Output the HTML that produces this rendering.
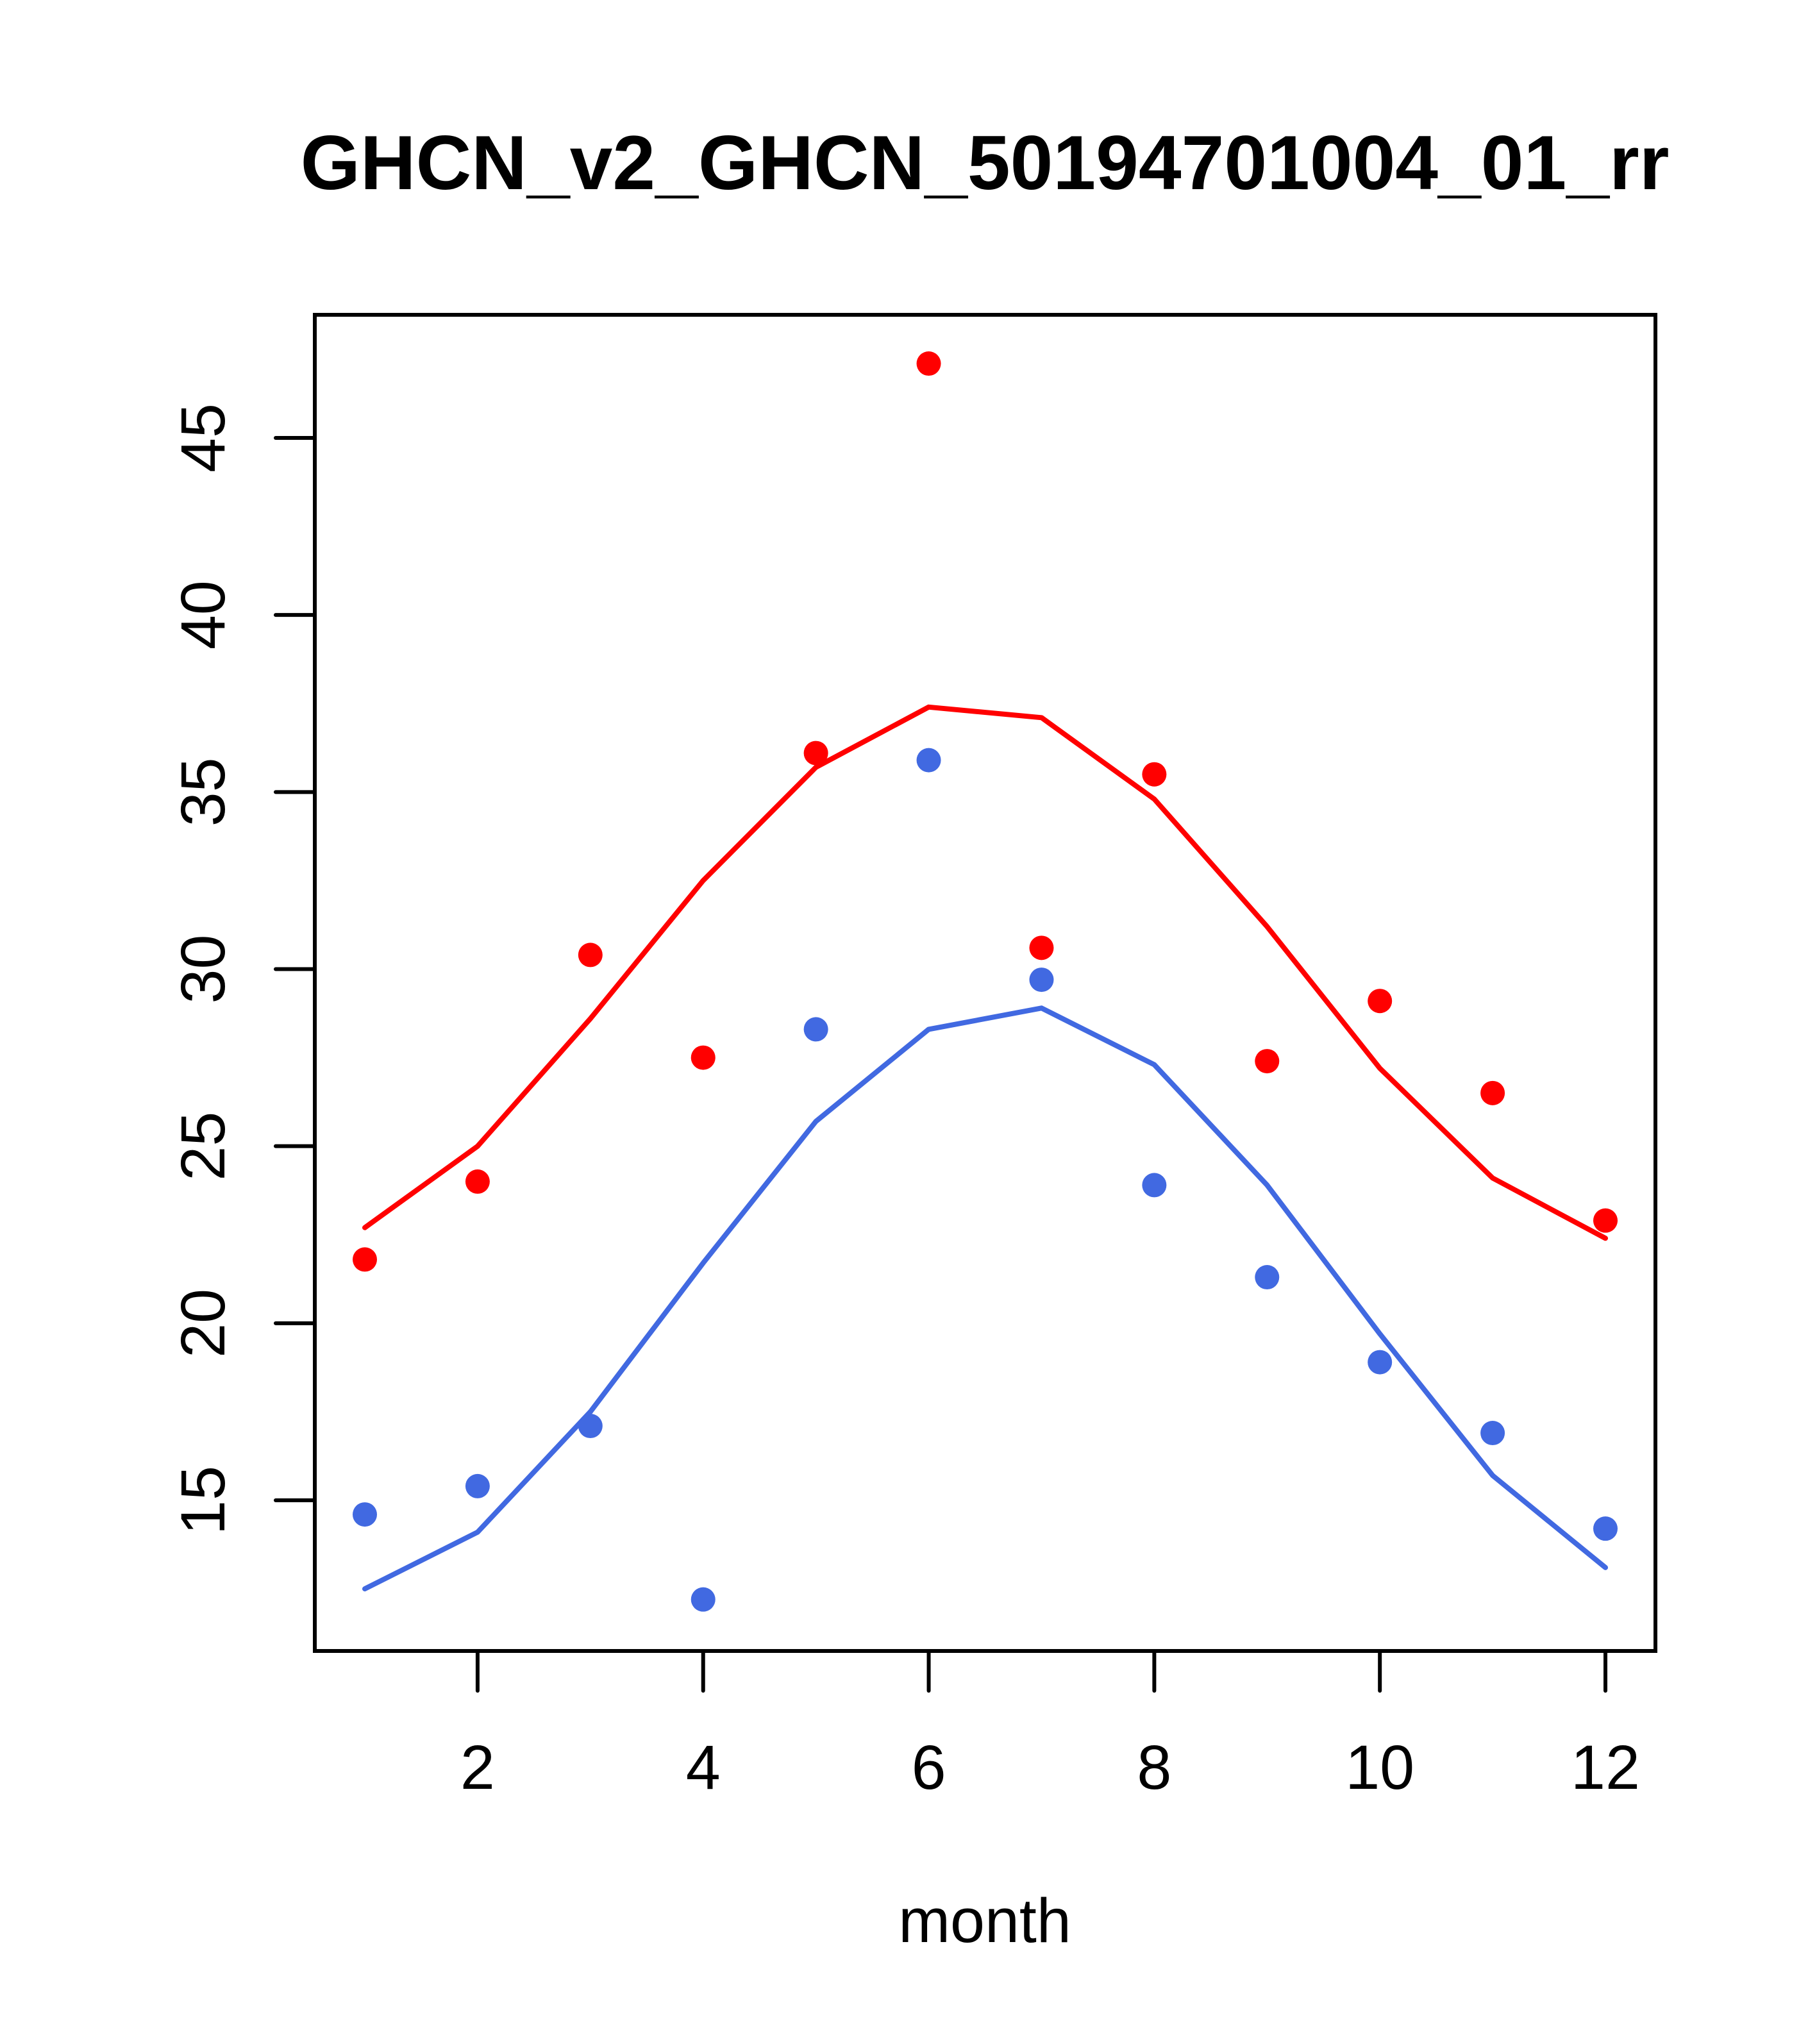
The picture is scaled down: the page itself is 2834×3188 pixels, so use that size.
<!DOCTYPE html>
<html><head><meta charset="utf-8"><style>html,body{margin:0;padding:0;background:#fff}svg{display:block}</style></head>
<body>
<svg id="chart" width="2834" height="3188" viewBox="0 0 2834 3188" xmlns="http://www.w3.org/2000/svg" font-family="Liberation Sans, Arial, sans-serif">
<rect width="2834" height="3188" fill="#fff"/>
<text x="1536" y="295" font-size="120" font-weight="bold" text-anchor="middle">GHCN_v2_GHCN_50194701004_01_rr</text>
<g id="marks"></g>
<rect x="491" y="491" width="2091" height="2084" fill="none" stroke="#000" stroke-width="6"/>
<g id="axes"></g>
<text x="1536" y="3029" font-size="97" text-anchor="middle">month</text>
</svg>
<script>
const months = [1,2,3,4,5,6,7,8,9,10,11,12];
const redPoints = [21.8,24.0,30.4,27.5,36.1,47.1,30.6,35.5,27.4,29.1,26.5,22.9];
const redLine = [22.7,25.0,28.6,32.5,35.7,37.4,37.1,34.8,31.2,27.2,24.1,22.4];
const bluePoints = [14.6,15.4,17.1,12.2,28.3,35.9,29.7,23.9,21.3,18.9,16.9,14.2];
const blueLine = [12.5,14.1,17.5,21.7,25.7,28.3,28.9,27.3,23.9,19.7,15.7,13.1];
const xTicks = [2,4,6,8,10,12];
const yTicks = [15,20,25,30,35,40,45];

const NS = "http://www.w3.org/2000/svg";
function xs(v){ return 569 + (v-1)*(2504-569)/11; }
function ys(v){ return 683 + (45-v)*(2340-683)/30; }
const marks = document.getElementById('marks');
const axes = document.getElementById('axes');
function mk(tag, attrs, parent){ const e=document.createElementNS(NS,tag); for(const k in attrs) e.setAttribute(k,attrs[k]); parent.appendChild(e); return e; }

function drawLine(vals, color, name){
  const pts = vals.map((v,i)=>xs(months[i]).toFixed(1)+','+ys(v).toFixed(1)).join(' ');
  const p = mk('polyline',{points:pts,fill:'none',stroke:color,'stroke-width':8,'stroke-linecap':'round','stroke-linejoin':'round'},marks);
  
  
}
function drawPoints(vals, color, name){
  vals.forEach((v,i)=>{
    const c = mk('circle',{cx:xs(months[i]),cy:ys(v),r:19,fill:color},marks);
    
    
  });
}
drawLine(redLine,'#ff0000','red-line');
drawLine(blueLine,'#4169e1','blue-line');
drawPoints(redPoints,'#ff0000','red-point');
drawPoints(bluePoints,'#4169e1','blue-point');

xTicks.forEach(t=>{
  const x = xs(t);
  const l = mk('line',{x1:x,y1:2575,x2:x,y2:2637,stroke:'#000','stroke-width':6,'stroke-linecap':'round'},axes);
  
  
  const tx = mk('text',{x:x,y:2790,'font-size':97,'text-anchor':'middle'},axes);
  tx.textContent = t;
  
  
});
yTicks.forEach(t=>{
  const y = ys(t);
  const l = mk('line',{x1:430,y1:y,x2:491,y2:y,stroke:'#000','stroke-width':6,'stroke-linecap':'round'},axes);
  
  
  const tx = mk('text',{x:350,y:y,'font-size':97,'text-anchor':'middle',transform:'rotate(-90 350 '+y+')'},axes);
  tx.textContent = t;
  
  
});
</script>
</body></html>
